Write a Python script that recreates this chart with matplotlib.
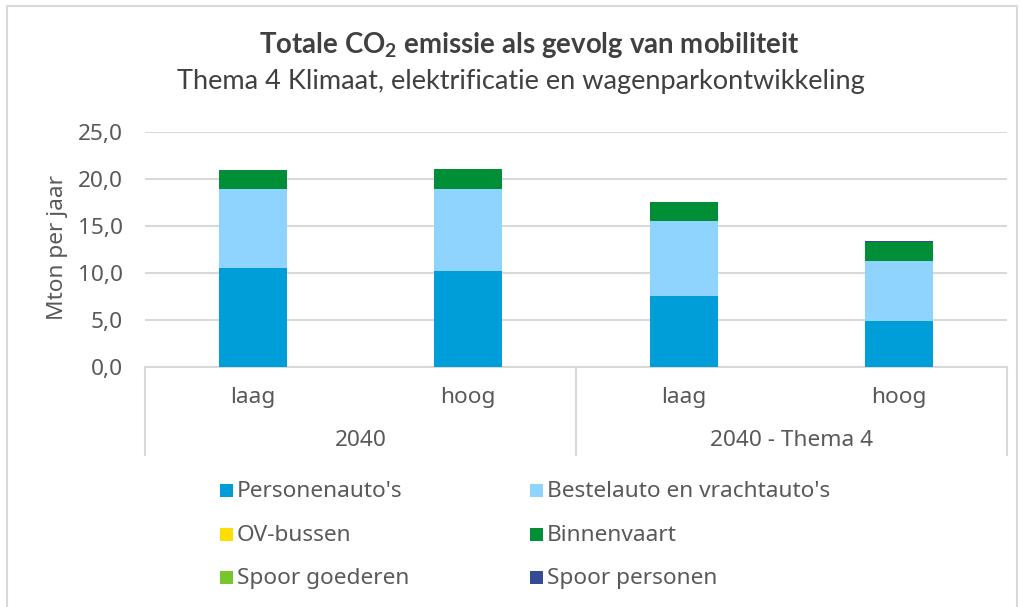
import matplotlib
matplotlib.use("Agg")
import matplotlib.pyplot as plt
from matplotlib.patches import Rectangle
import matplotlib.transforms as mtransforms
import numpy as np

categories = ["laag", "hoog", "laag", "hoog"]
groups = ["2040", "2040 - Thema 4"]
series_names = ["Personenauto's", "Bestelauto en vrachtauto's", "OV-bussen",
                "Binnenvaart", "Spoor goederen", "Spoor personen"]
personen = [10.5, 10.25, 7.55, 4.9]
bestel = [8.45, 8.7, 7.98, 6.4]
ov_bussen = [0.0, 0.0, 0.0, 0.0]
binnenvaart = [2.0, 2.08, 1.98, 2.05]
spoor_goederen = [0.0, 0.0, 0.0, 0.0]
spoor_personen = [0.02, 0.05, 0.03, 0.08]
yticks = [0, 5, 10, 15, 20, 25]
colors = ["#009ED8", "#8FD3FF", "#FFDD00", "#008F36", "#76C82A", "#354B96"]

W, H = 1022, 607
FONT = "Noto Sans"
FS = 16.3
TXT = "#595959"
GRID = "#d9d9d9"

fig = plt.figure(figsize=(W / 100, H / 100), dpi=100)
fig.patch.set_facecolor("white")


def px(xp, yp):
    return xp / W, 1 - yp / H


# outer chart frame
fig.patches.append(Rectangle((7 / W, -0.01), (1017 - 7) / W, 1 - 6 / H + 0.01,
                             transform=fig.transFigure, fill=False,
                             edgecolor=GRID, linewidth=1.5))

ax = fig.add_axes([145 / W, 1 - 367 / H, 862 / W, 235 / H])
x = np.arange(len(categories))
series = [personen, bestel, ov_bussen, binnenvaart, spoor_goederen, spoor_personen]
bottom = np.zeros(len(categories))
for name, vals, c in zip(series_names, series, colors):
    ax.bar(x, vals, bottom=bottom, width=0.316, color=c, edgecolor="none", zorder=3)
    bottom += np.array(vals)

ax.set_xlim(-0.5, len(categories) - 0.5)
ax.set_ylim(0, 25)
ax.set_yticks(yticks)
ax.set_yticklabels([f"{v:.1f}".replace(".", ",") for v in yticks],
                   fontsize=FS, color=TXT, family=FONT)
ax.tick_params(axis="y", length=0, pad=16)
ax.tick_params(axis="x", length=0, labelbottom=False)
ax.grid(axis="y", color=GRID, linewidth=1.5, zorder=0)
for s in ["top", "right", "left"]:
    ax.spines[s].set_visible(False)
ax.spines["bottom"].set_color(GRID)
ax.spines["bottom"].set_linewidth(1.5)

fig.text(*px(57, 248), "Mton per jaar", rotation=90, ha="center", va="center",
         fontsize=FS, color=TXT, family=FONT)

# multi-level category axis
trans = mtransforms.blended_transform_factory(ax.transData, fig.transFigure)
for xv in [-0.5, 1.5, 3.5]:
    ax.plot([xv, xv], [1 - 367 / H, 1 - 455 / H], transform=trans, color=GRID,
            linewidth=1.5, clip_on=False)
for xi, lab in zip(x, categories):
    ax.text(xi, 1 - 397 / H, lab, transform=trans, ha="center", va="center",
            fontsize=FS, color=TXT, family=FONT)
for gi, g in enumerate(groups):
    ax.text(0.5 + 2 * gi, 1 - 441 / H, g, transform=trans, ha="center", va="center",
            fontsize=FS, color=TXT, family=FONT)

# title
t1 = fig.text(*px(529, 45), r"Totale CO$_\mathregular{2}$ emissie als gevolg van mobiliteit",
              ha="center", va="center", fontsize=18, fontweight="bold", color="#404040",
              family="Lato")
t2 = fig.text(*px(521, 82), "Thema 4 Klimaat, elektrificatie en wagenparkontwikkeling",
              ha="center", va="center", fontsize=18, color="#404040", family="Lato")

fig.canvas.draw()
r = fig.canvas.get_renderer()
for t, target in [(t1, 542), (t2, 687)]:
    w = t.get_window_extent(r).width
    t.set_fontsize(t.get_fontsize() * target / w)

# manual legend, row-wise 2 columns
col_x = [220, 530]
row_bottom = [497, 541, 584]
for i, (name, c) in enumerate(zip(series_names, colors)):
    cx = col_x[i % 2]
    rb = row_bottom[i // 2]
    fig.patches.append(Rectangle(px(cx, rb), 13 / W, 13 / H, transform=fig.transFigure,
                                 facecolor=c, edgecolor="none"))
    fig.text(*px(cx + 17, rb), name, ha="left", va="baseline", fontsize=FS,
             color=TXT, family=FONT)

fig.savefig("out.png", dpi=100, facecolor="white")
